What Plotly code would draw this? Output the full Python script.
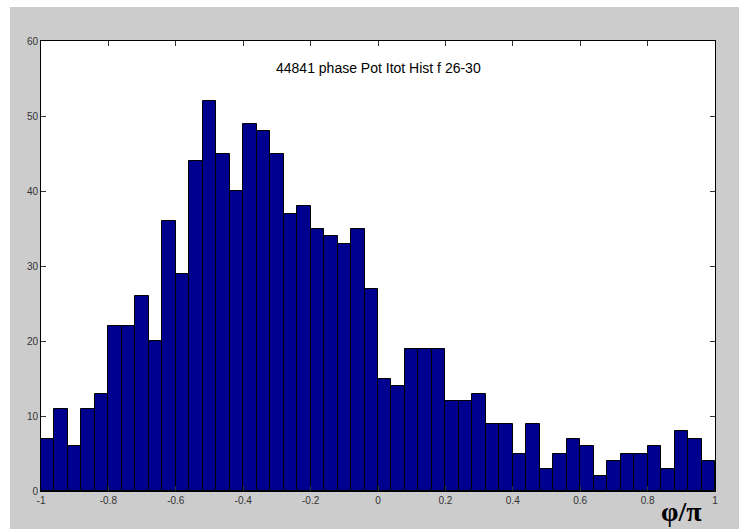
import numpy as np
import plotly.graph_objects as go

# Histogram of phase (in units of pi), 50 equal bins over [-1, 1]
bin_lo, bin_hi, n_bins = -1.0, 1.0, 50
counts = [7, 11, 6, 11, 13, 22, 22, 26, 20, 36,
          29, 44, 52, 45, 40, 49, 48, 45, 37, 38,
          35, 34, 33, 35, 27, 15, 14, 19, 19, 19,
          12, 12, 13, 9, 9, 5, 9, 3, 5, 7,
          6, 2, 4, 5, 5, 6, 3, 8, 7, 4]
x_ticks = [-1, -0.8, -0.6, -0.4, -0.2, 0, 0.2, 0.4, 0.6, 0.8, 1]
x_tick_text = ["-1", "-0.8", "-0.6", "-0.4", "-0.2", "0", "0.2", "0.4", "0.6", "0.8", "1"]
y_ticks = [0, 10, 20, 30, 40, 50, 60]
title_text = "44841 phase Pot Itot Hist f 26-30"
x_label = "φ/π"

edges = np.linspace(bin_lo, bin_hi, n_bins + 1)
centers = (edges[:-1] + edges[1:]) / 2
width = edges[1] - edges[0]

W, H = 739, 529
ml, mr, mt, mb = 41, 24, 41, 38
pw, ph = W - ml - mr, H - mt - mb

def px_x(px):
    return (px - ml) / pw

def px_y(py):
    return (H - mb - py) / ph

fig = go.Figure(go.Bar(
    x=centers, y=counts, width=width,
    marker=dict(color="#00008f", line=dict(color="#000000", width=1)),
))

tick_font = dict(family="Liberation Sans Narrow, Arial Narrow, Liberation Sans, Arial", size=10, color="#333333")
axis_common = dict(showline=True, linecolor="#000000", linewidth=1, mirror="ticks",
                   ticks="inside", ticklen=5, tickcolor="#333333",
                   showgrid=False, zeroline=False, tickfont=tick_font)

fig.update_layout(
    width=W, height=H,
    margin=dict(l=ml, r=mr, t=mt, b=mb),
    paper_bgcolor="#cccccc", plot_bgcolor="#ffffff",
    bargap=0, showlegend=False,
    xaxis=dict(range=[bin_lo, bin_hi], tickvals=x_ticks, ticktext=x_tick_text, **axis_common),
    yaxis=dict(range=[0, 60], tickvals=y_ticks, **axis_common),
    shapes=[
        # white border strips along the left and top edges of the figure
        dict(type="rect", xref="paper", yref="paper", layer="above",
             x0=px_x(-2), x1=px_x(10), y0=px_y(H + 2), y1=px_y(-2),
             fillcolor="#ffffff", line=dict(width=0)),
        dict(type="rect", xref="paper", yref="paper", layer="above",
             x0=px_x(-2), x1=px_x(W + 2), y0=px_y(7), y1=px_y(-2),
             fillcolor="#ffffff", line=dict(width=0)),
    ],
    annotations=[
        dict(text=title_text, xref="paper", yref="paper", x=0.5, y=px_y(68),
             xanchor="center", yanchor="middle", showarrow=False,
             font=dict(family="Liberation Sans, Arial", size=14, color="#000000")),
        dict(text="<b>" + x_label + "</b>", xref="paper", yref="paper",
             x=px_x(681), y=px_y(511), xanchor="center", yanchor="middle", showarrow=False,
             font=dict(family="Liberation Serif, Times New Roman, serif", size=28, color="#000000")),
    ],
)

fig.write_html("out.html")
